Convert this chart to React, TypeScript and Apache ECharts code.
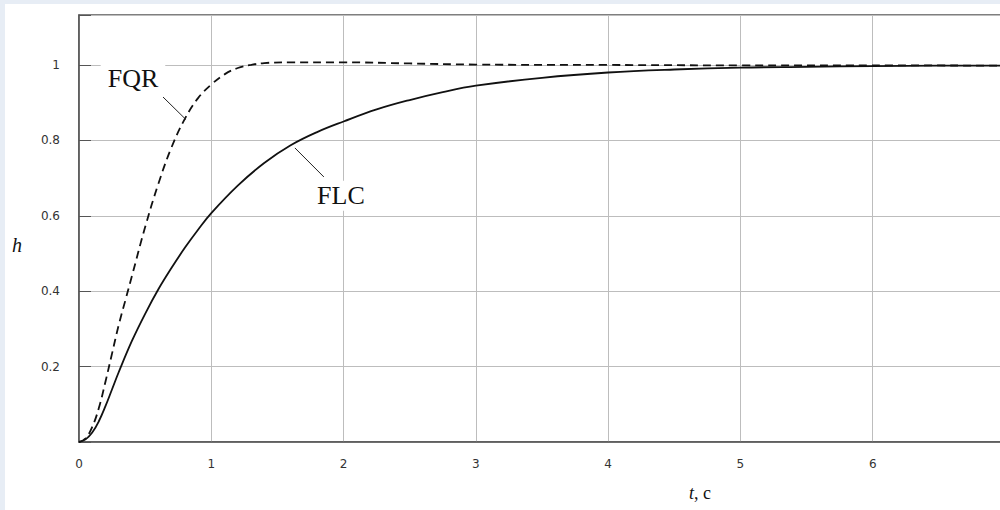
import React, { useEffect, useRef } from 'react';
import * as echarts from 'echarts';

// Time values (s) and step responses
const tFLC = [0, 0.05, 0.1, 0.15, 0.2, 0.25, 0.3, 0.4, 0.5, 0.6, 0.7, 0.8, 0.9, 1.0, 1.2, 1.4, 1.6, 1.8, 2.0, 2.25, 2.5, 2.75, 3.0, 3.5, 4.0, 4.5, 5.0, 5.5, 6.0, 6.5, 7.0];
const hFLC = [0, 0.007, 0.025, 0.055, 0.095, 0.14, 0.185, 0.268, 0.34, 0.405, 0.462, 0.515, 0.563, 0.607, 0.68, 0.74, 0.787, 0.822, 0.85, 0.882, 0.907, 0.928, 0.945, 0.966, 0.98, 0.988, 0.993, 0.995, 0.997, 0.998, 0.998];

const tFQR = [0, 0.05, 0.1, 0.15, 0.2, 0.25, 0.3, 0.35, 0.4, 0.5, 0.6, 0.7, 0.8, 0.9, 1.0, 1.1, 1.2, 1.3, 1.4, 1.6, 2.0, 2.5, 3.0, 4.0, 5.0, 6.0, 7.0];
const hFQR = [0, 0.01, 0.04, 0.09, 0.16, 0.235, 0.31, 0.375, 0.44, 0.57, 0.685, 0.782, 0.857, 0.912, 0.948, 0.975, 0.992, 1.0, 1.005, 1.007, 1.007, 1.004, 1.001, 1.0, 0.999, 0.999, 0.998];

const xMin = 0;
const xMax = 7;
const xStep = 1;
const yMin = 0;
const yMax = 1.1325;
const yStep = 0.2;

// Annotation anchors in data coordinates [t, h]
const fqrLabelAt = [0.408, 0.963];
const fqrLeader = [[0.635, 0.915], [0.809, 0.855]];
const flcLabelAt = [1.98, 0.653];
const flcLeader = [[1.632, 0.78], [1.851, 0.703]];

const serif = '"Liberation Serif", "Times New Roman", serif';
const sans = '"DejaVu Sans", sans-serif';

export default function App() {
  const ref = useRef<HTMLDivElement>(null);

  useEffect(() => {
    document.body.style.margin = '0';
    if (!ref.current) return;
    const chart = echarts.init(ref.current, undefined, { renderer: 'svg' });
    const flcData = tFLC.map((t, i) => [t, hFLC[i]]);
    const fqrData = tFQR.map((t, i) => [t, hFQR[i]]);

    chart.setOption({
      animation: false,
      backgroundColor: '#ffffff',
      grid: {
        left: 74,
        top: 11,
        right: -5,
        bottom: 68,
        outerBoundsMode: 'none',
        containLabel: false,
        show: true,
        borderColor: '#555',
        borderWidth: 1.5,
        backgroundColor: 'transparent',
      },
      xAxis: {
        type: 'value',
        min: xMin,
        max: xMax,
        interval: xStep,
        axisLine: { show: true, onZero: false, lineStyle: { color: '#555', width: 1.5 } },
        axisTick: { show: false },
        splitLine: { show: true, lineStyle: { color: '#bdbdbd', width: 1 } },
        axisLabel: { color: '#333', fontFamily: sans, fontSize: 12, margin: 16, showMaxLabel: false },
      },
      yAxis: {
        type: 'value',
        min: yMin,
        max: yMax,
        interval: yStep,
        axisLine: { show: true, onZero: false, lineStyle: { color: '#555', width: 1.5 } },
        axisTick: { show: true, inside: true, length: 12, lineStyle: { color: '#555', width: 1 } },
        splitLine: { show: true, lineStyle: { color: '#bdbdbd', width: 1 } },
        axisLabel: {
          color: '#333',
          fontFamily: sans,
          fontSize: 12,
          margin: 19,
          formatter: (v: number) => {
            const k = v / yStep;
            if (v === 0 || Math.abs(k - Math.round(k)) > 1e-6) return '';
            return String(Number(v.toFixed(1)));
          },
        },
      },
      series: [
        {
          name: 'FLC',
          type: 'line',
          data: flcData,
          smooth: 0.4,
          showSymbol: false,
          lineStyle: { color: '#111', width: 1.8 },
          z: 5,
        },
        {
          name: 'FQR',
          type: 'line',
          data: fqrData,
          smooth: 0.4,
          showSymbol: false,
          lineStyle: { color: '#111', width: 1.8, type: [8, 5] },
          z: 5,
        },
      ],
    });

    const p = (pt: number[]) => chart.convertToPixel({ gridIndex: 0 }, pt) as number[];
    const fl = p(fqrLabelAt);
    const fa = p(fqrLeader[0]);
    const fb = p(fqrLeader[1]);
    const cl = p(flcLabelAt);
    const ca = p(flcLeader[0]);
    const cb = p(flcLeader[1]);

    chart.setOption({
      graphic: [
        {
          type: 'text',
          x: fl[0],
          y: fl[1],
          z: 20,
          style: {
            text: 'FQR',
            font: `26px ${serif}`,
            fill: '#111',
            align: 'center',
            verticalAlign: 'middle',
            backgroundColor: '#fff',
            padding: [3, 7],
          },
        },
        {
          type: 'line',
          z: 20,
          shape: { x1: fa[0], y1: fa[1], x2: fb[0], y2: fb[1] },
          style: { stroke: '#222', lineWidth: 1 },
        },
        {
          type: 'text',
          x: cl[0],
          y: cl[1],
          z: 20,
          style: {
            text: 'FLC',
            font: `26px ${serif}`,
            fill: '#111',
            align: 'center',
            verticalAlign: 'middle',
            backgroundColor: '#fff',
            padding: [2, 4],
          },
        },
        {
          type: 'line',
          z: 20,
          shape: { x1: ca[0], y1: ca[1], x2: cb[0], y2: cb[1] },
          style: { stroke: '#222', lineWidth: 1 },
        },
        {
          type: 'text',
          x: 12,
          y: 241,
          z: 20,
          style: {
            text: 'h',
            font: `italic 20px ${serif}`,
            fill: '#111',
            align: 'center',
            verticalAlign: 'middle',
          },
        },
        {
          type: 'text',
          x: 695,
          y: 489,
          z: 20,
          style: {
            text: '{i|t}, с',
            font: `18px ${serif}`,
            fill: '#111',
            align: 'center',
            verticalAlign: 'middle',
            rich: {
              i: { fontStyle: 'italic', fontSize: 18, fontFamily: serif, fill: '#111' },
            },
          },
        },
      ],
    });

    return () => chart.dispose();
  }, []);

  return (
    <div style={{ position: 'relative', width: 1000, height: 510, background: '#e7edf5', overflow: 'hidden' }}>
      <div
        ref={ref}
        style={{ position: 'absolute', left: 5, top: 4, width: 995, height: 506, background: '#fff' }}
      />
    </div>
  );
}
